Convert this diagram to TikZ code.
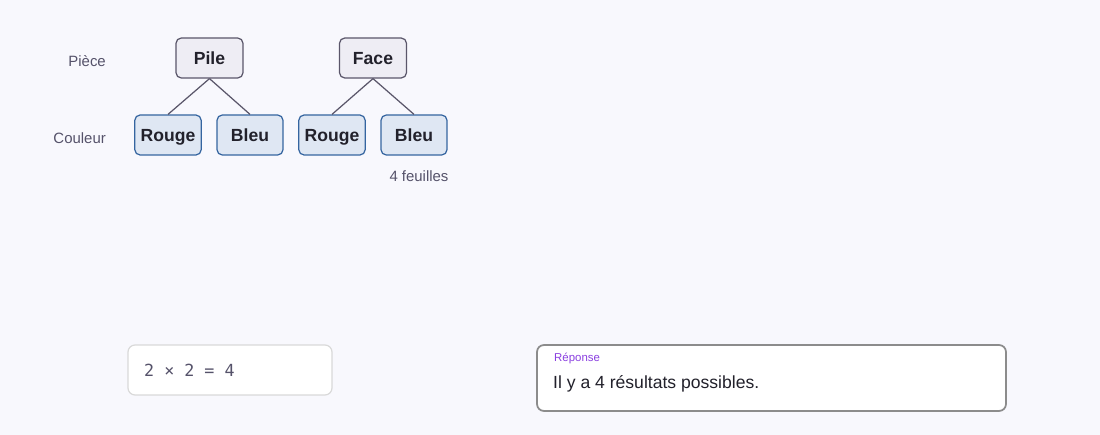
\documentclass[tikz,border=0pt]{standalone}
\usepackage{fontspec}
\setmainfont{Liberation Sans}
\setmonofont{DejaVu Sans Mono}
\usetikzlibrary{positioning}
\definecolor{bgc}{HTML}{F8F8FD}
\definecolor{grayline}{HTML}{5A566A}
\definecolor{grayfill}{HTML}{EEEDF4}
\definecolor{blueline}{HTML}{3565A0}
\definecolor{bluefill}{HTML}{DFE7F3}
\definecolor{txt}{HTML}{22212B}
\definecolor{subtxt}{HTML}{55526A}
\definecolor{purp}{HTML}{8A3FE0}
\tikzset{
  coinbox/.style={draw=grayline, fill=grayfill, rounded corners=3pt, line width=0.7pt,
    minimum width=1.34cm, minimum height=0.8cm, text height=1.8ex, text depth=0.3ex,
    font=\fontsize{10}{12}\selectfont\bfseries, text=txt},
  colorbox/.style={draw=blueline, fill=bluefill, rounded corners=3pt, line width=0.7pt,
    minimum width=1.32cm, minimum height=0.8cm, text height=1.8ex, text depth=0.3ex,
    font=\fontsize{10}{12}\selectfont\bfseries, text=txt},
  rowlabel/.style={anchor=east, font=\fontsize{8.5}{10}\selectfont, text=subtxt},
  branch/.style={draw=grayline, line width=0.7pt}
}
\begin{document}
\begin{tikzpicture}[x=0.02cm,y=-0.02cm]
  \fill[bgc] (0,0) rectangle (1100,435);

  %% Levels
  \node[rowlabel] (piece) at (112,61) {Pièce};
  \node[rowlabel] (couleur) at (112,138) {Couleur};

  \node[coinbox] (pile) at (209.5,58) {Pile};
  \node[coinbox] (face) at (373,58) {Face};

  \node[colorbox] (rouge1) at (168,135) {Rouge};
  \node[colorbox] (bleu1) at (250,135) {Bleu};
  \node[colorbox] (rouge2) at (332,135) {Rouge};
  \node[colorbox] (bleu2) at (414,135) {Bleu};

  \draw[branch] (pile.south) -- (rouge1.north);
  \draw[branch] (pile.south) -- (bleu1.north);
  \draw[branch] (face.south) -- (rouge2.north);
  \draw[branch] (face.south) -- (bleu2.north);

  \node[font=\fontsize{8.5}{10}\selectfont, text=subtxt] (leaves) at (419,176) {4 feuilles};

  %% Calculation and answer
  \draw[draw=black!15, fill=white, rounded corners=4pt, line width=0.7pt] (128,345) rectangle (332,395);
  \node[anchor=west, font=\ttfamily\fontsize{9.5}{11}\selectfont, text=subtxt] (calc) at (138,370) {2 × 2 = 4};

  \draw[draw=black!45, fill=white, rounded corners=4pt, line width=1pt] (537,345) rectangle (1006,411);
  \node[anchor=west, font=\fontsize{6.5}{8}\selectfont, text=purp] (rep) at (548,358) {Réponse};
  \node[anchor=west, font=\fontsize{10}{12}\selectfont, text=txt] (answer) at (547,384) {Il y a 4 résultats possibles.};
\end{tikzpicture}
\end{document}
